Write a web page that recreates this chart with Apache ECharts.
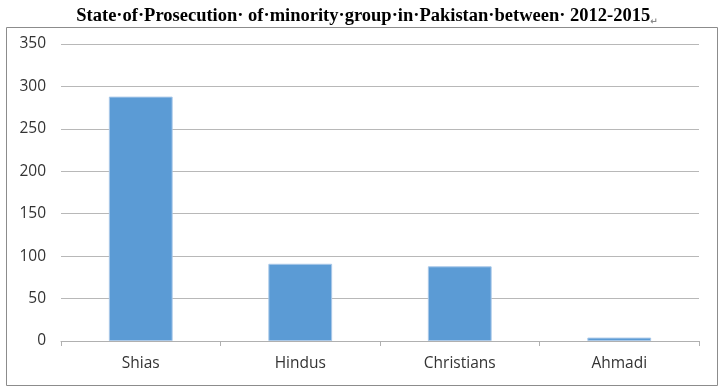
<!DOCTYPE html>
<html><head><meta charset="utf-8">
<script src="https://cdn.jsdelivr.net/npm/echarts@6/dist/echarts.min.js"></script>
<style>html,body{margin:0;padding:0;background:#fff}#c{width:723px;height:389px}</style>
</head><body><div id="c"></div>
<script>
var titleText = 'State·of·Prosecution· of·minority·group·in·Pakistan·between· 2012-2015';
var categories = ['Shias', 'Hindus', 'Christians', 'Ahmadi'];
var values = [288, 91, 88, 4];
var yTicks = [0, 50, 100, 150, 200, 250, 300, 350];

var chart = echarts.init(document.getElementById('c'));
chart.setOption({
  animation: false,
  title: {
    text: titleText + '{r|↵}',
    left: 362, top: 2, textAlign: 'center',
    textStyle: {
      fontFamily: 'Liberation Serif', fontWeight: 'bold', fontSize: 18.5, color: '#000',
      rich: { r: { fontSize: 9, color: '#888', fontFamily: 'DejaVu Sans', verticalAlign: 'bottom', padding: [6,0,0,0] } }
    }
  },
  graphic: [{
    type: 'rect', shape: { x: 6.5, y: 27.5, width: 711, height: 358 },
    style: { fill: 'none', stroke: '#8c8c8c', lineWidth: 1 }, z: -1
  }],
  grid: { left: 61, right: 24, top: 44, bottom: 48 },
  xAxis: {
    type: 'category', data: categories,
    axisLine: { lineStyle: { color: '#b0b0b0', width: 1 } },
    axisTick: { show: true, alignWithLabel: false, length: 5, lineStyle: { color: '#b0b0b0' } },
    axisLabel: { color: '#333', fontSize: 15.5, fontFamily: 'Open Sans', margin: 15 }
  },
  yAxis: {
    type: 'value', min: yTicks[0], max: yTicks[yTicks.length - 1], interval: 50,
    axisLine: { show: false }, axisTick: { show: false },
    splitLine: { lineStyle: { color: '#b8b8b8', width: 1 } },
    axisLabel: { color: '#333', fontSize: 15.5, fontFamily: 'Open Sans', margin: 15 }
  },
  series: [{
    type: 'bar', data: values, barWidth: '40%',
    itemStyle: { color: '#5b9bd5', borderColor: '#a9c8e8', borderWidth: 1 }
  }]
});
</script></body></html>
